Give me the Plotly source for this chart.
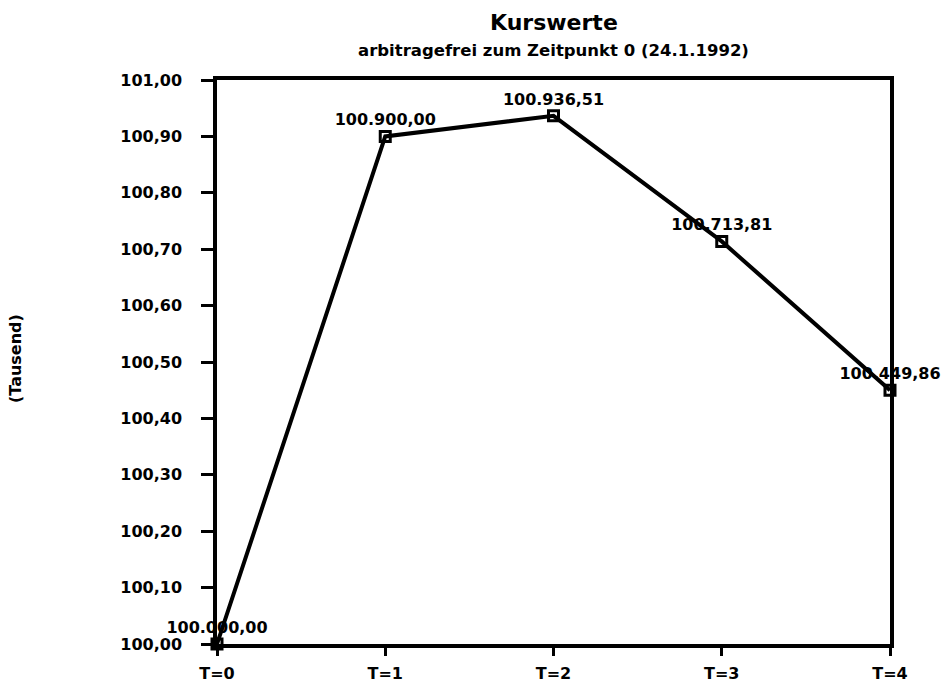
import plotly.graph_objects as go

categories = ["T=0", "T=1", "T=2", "T=3", "T=4"]
kurswerte = [100000.00, 100900.00, 100936.51, 100713.81, 100449.86]
y_ticks = [100.00, 100.10, 100.20, 100.30, 100.40, 100.50, 100.60, 100.70, 100.80, 100.90, 101.00]


def de_fmt(v):
    s = f"{v:,.2f}"
    return s.replace(",", "X").replace(".", ",").replace("X", ".")


y_thousand = [v / 1000 for v in kurswerte]
labels = [de_fmt(v) for v in kurswerte]
tick_text = [f"{t:.2f}".replace(".", ",") for t in y_ticks]

font_family = "DejaVu Sans, Liberation Sans, sans-serif"

fig = go.Figure()
fig.add_trace(go.Scatter(
    x=list(range(len(categories))),
    y=y_thousand,
    mode="lines+markers+text",
    line=dict(color="black", width=4),
    marker=dict(symbol="square-open", size=10, color="black", line=dict(width=3, color="black")),
    text=labels,
    textposition="top center",
    textfont=dict(family=font_family, size=16, color="black", weight="bold"),
    cliponaxis=False,
    showlegend=False,
))

fig.update_layout(
    width=943, height=695, autosize=False,
    margin=dict(l=217, r=53, t=80, b=35),
    paper_bgcolor="white", plot_bgcolor="white",
    font=dict(family=font_family, color="black"),
    annotations=[
        dict(text="<b>Kurswerte</b>", x=0.5, y=1, xref="paper", yref="paper",
             yshift=58, showarrow=False, font=dict(size=22, family=font_family),
             xanchor="center", yanchor="middle"),
        dict(text="<b>arbitragefrei zum Zeitpunkt 0 (24.1.1992)</b>", x=0.5, y=1, xref="paper", yref="paper",
             yshift=30, showarrow=False, font=dict(size=16.5, family=font_family),
             xanchor="center", yanchor="middle"),
        dict(text="<b>(Tausend)</b>", x=0, y=0.5, xref="paper", yref="paper", xshift=-202, yshift=3,
             showarrow=False, textangle=-90, font=dict(size=16, family=font_family),
             xanchor="center", yanchor="middle"),
    ],
)

fig.update_xaxes(
    range=[0, 4], tickmode="array", tickvals=list(range(len(categories))), ticktext=categories,
    showgrid=False, zeroline=False, showline=True, linecolor="black", linewidth=3.5, mirror=True,
    ticks="outside", ticklen=8, tickwidth=3, tickcolor="black", ticklabelstandoff=4,
    tickfont=dict(size=16, family=font_family, weight="bold"),
)
fig.update_yaxes(
    range=[100.0, 101.0], tickmode="array", tickvals=y_ticks, ticktext=tick_text,
    showgrid=False, zeroline=False, showline=True, linecolor="black", linewidth=3.5, mirror=True,
    ticks="outside", ticklen=12, tickwidth=3, tickcolor="black", ticklabelstandoff=16,
    tickfont=dict(size=16, family=font_family, weight="bold"),
)

fig.write_html("out.html", config={"displayModeBar": False},
               post_script="document.body.style.margin='0';")
